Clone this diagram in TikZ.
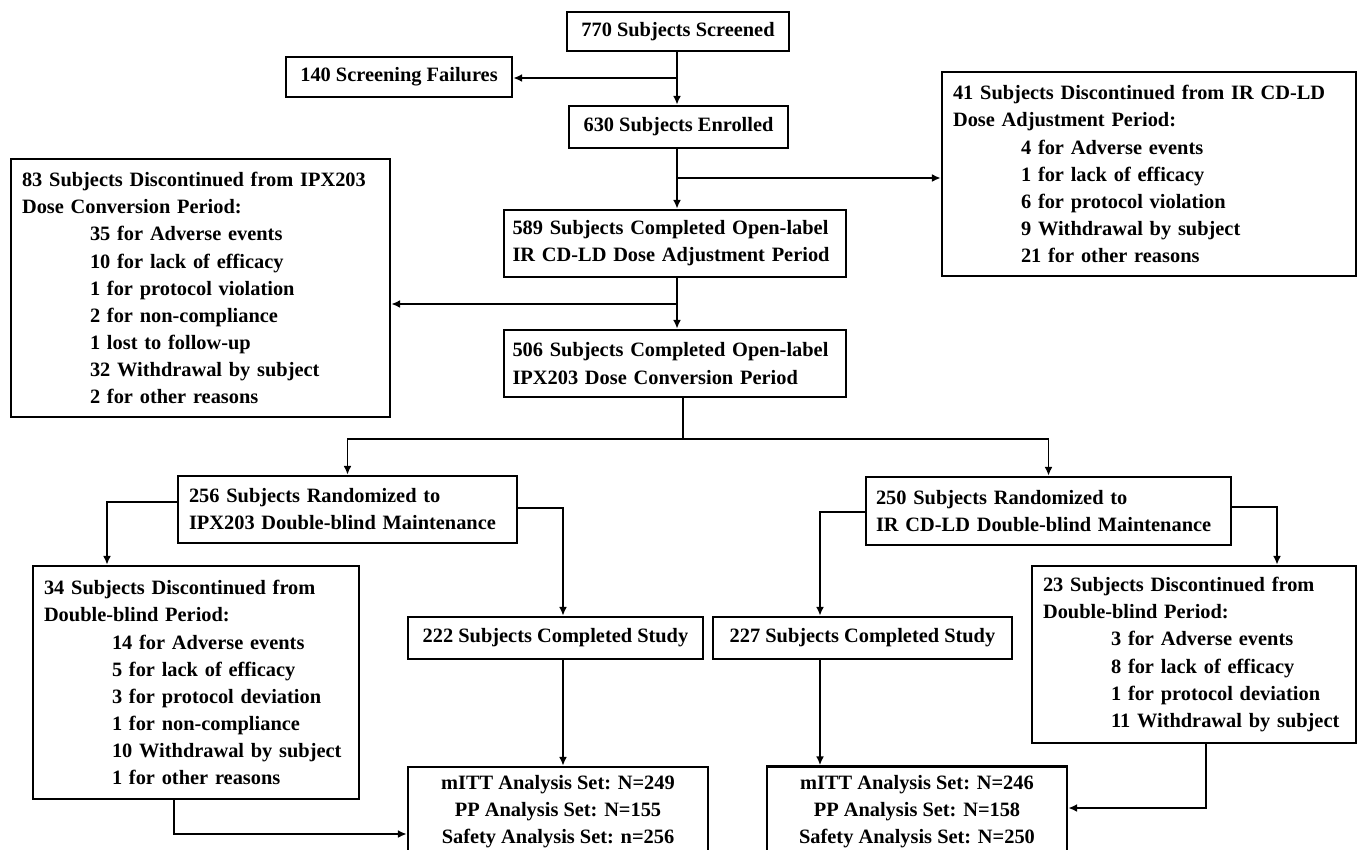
\documentclass[tikz,border=0pt]{standalone}
\usepackage{fontspec}
\setmainfont{Liberation Serif}
\usetikzlibrary{arrows.meta,positioning}

\newcommand{\ind}{\hspace*{1.36cm}}

\begin{document}
\begin{tikzpicture}[
    x=0.02cm, y=-0.02cm,
    font=\fontsize{11.6}{15.4}\selectfont\bfseries,
    box/.style={rectangle, draw, line width=1.5pt, inner sep=0pt, align=center},
    listbox/.style={box, align=left, inner xsep=0.22cm},
    arrow/.style={-{Latex[length=5pt,width=4.5pt]}, line width=1pt},
    line/.style={line width=1pt}
]
\useasboundingbox (0,0) rectangle (1361,849);

    % screening and open-label periods
    \node[box, minimum width=4.44cm, minimum height=0.78cm] (scr) at (678,31.5) {770 Subjects Screened};
    \node[box, minimum width=4.52cm, minimum height=0.8cm] (fail) at (399,77) {140 Screening Failures};
    \node[box, minimum width=4.38cm, minimum height=0.84cm] (enr) at (678.5,127) {630 Subjects Enrolled};
    \node[listbox, text width=7.84cm, minimum height=4.08cm] (dc1) at (1149,174) {41 Subjects Discontinued from IR CD-LD\\Dose Adjustment Period:\\\ind 4 for Adverse events\\\ind 1 for lack of efficacy\\\ind 6 for protocol violation\\\ind 9 Withdrawal by subject\\\ind 21 for other reasons};
    \node[listbox, inner xsep=0.17cm, text width=6.5cm, minimum height=1.34cm] (cmp1) at (675,243.5) {589 Subjects Completed Open-label\\IR CD-LD Dose Adjustment Period};
    \node[listbox, text width=7.14cm, minimum height=5.16cm] (dc2) at (200.5,288) {83 Subjects Discontinued from IPX203\\Dose Conversion Period:\\\ind 35 for Adverse events\\\ind 10 for lack of efficacy\\\ind 1 for protocol violation\\\ind 2 for non-compliance\\\ind 1 lost to follow-up\\\ind 32 Withdrawal by subject\\\ind 2 for other reasons};
    \node[listbox, inner xsep=0.17cm, text width=6.5cm, minimum height=1.34cm] (cmp2) at (675,363.5) {506 Subjects Completed Open-label\\IPX203 Dose Conversion Period};

    % randomized arms
    \node[listbox, text width=6.34cm, minimum height=1.34cm] (rnd1) at (347.5,509.5) {256 Subjects Randomized to\\IPX203 Double-blind Maintenance};
    \node[listbox, inner xsep=0.2cm, text width=6.9cm, minimum height=1.36cm] (rnd2) at (1048.5,511) {250 Subjects Randomized to\\IR CD-LD Double-blind Maintenance};
    \node[listbox, text width=6.08cm, minimum height=4.66cm] (dc3) at (196,682.5) {34 Subjects Discontinued from\\Double-blind Period:\\\ind 14 for Adverse events\\\ind 5 for lack of efficacy\\\ind 3 for protocol deviation\\\ind 1 for non-compliance\\\ind 10 Withdrawal by subject\\\ind 1 for other reasons};
    \node[box, minimum width=5.9cm, minimum height=0.84cm] (fin1) at (555.5,638) {222 Subjects Completed Study};
    \node[box, minimum width=5.98cm, minimum height=0.84cm] (fin2) at (862.5,638) {227 Subjects Completed Study};
    \node[listbox, text width=6.04cm, minimum height=3.54cm] (dc4) at (1194,654.5) {23 Subjects Discontinued from\\Double-blind Period:\\\ind 3 for Adverse events\\\ind 8 for lack of efficacy\\\ind 1 for protocol deviation\\\ind 11 Withdrawal by subject};
    \node[box, minimum width=6cm, minimum height=1.8cm] (set1) at (558,812) {mITT Analysis Set: N=249\\PP Analysis Set: N=155\\Safety Analysis Set: n=256};
    \node[box, minimum width=6cm, minimum height=1.8cm] (set2) at (917,811.5) {mITT Analysis Set: N=246\\PP Analysis Set: N=158\\Safety Analysis Set: N=250};

    % bend points
    \coordinate (t1) at (677,78);
    \coordinate (t2) at (677,178);
    \coordinate (t3) at (677,304);
    \coordinate (t4) at (683,439);
    \coordinate (l1) at (107,502);
    \coordinate (r1) at (563,508);
    \coordinate (l2) at (820,512);
    \coordinate (r2) at (1277,507);
    \coordinate (b1) at (174,834);
    \coordinate (b2) at (1206,808);

    \draw[arrow] (scr.south -| t1) -- (enr.north -| t1);
    \draw[arrow] (t1) -- (fail.east |- t1);
    \draw[arrow] (enr.south -| t2) -- (cmp1.north -| t2);
    \draw[arrow] (t2) -- (dc1.west |- t2);
    \draw[arrow] (cmp1.south -| t3) -- (cmp2.north -| t3);
    \draw[arrow] (t3) -- (dc2.east |- t3);
    \draw[line] (cmp2.south -| t4) -- (t4);
    \draw[arrow] (t4) -| (rnd1.north);
    \draw[arrow] (t4) -| (rnd2.north);

    \draw[arrow] (rnd1.west |- l1) -| (dc3.north -| l1);
    \draw[arrow] (rnd1.east |- r1) -| (fin1.north -| r1);
    \draw[arrow] (rnd2.west |- l2) -| (fin2.north -| l2);
    \draw[arrow] (rnd2.east |- r2) -| (dc4.north -| r2);
    \draw[arrow] (fin1.south -| r1) -- (set1.north -| r1);
    \draw[arrow] (fin2.south -| l2) -- (set2.north -| l2);
    \draw[arrow] (dc3.south -| b1) |- (set1.west |- b1);
    \draw[arrow] (dc4.south -| b2) |- (set2.east |- b2);

\end{tikzpicture}
\end{document}
